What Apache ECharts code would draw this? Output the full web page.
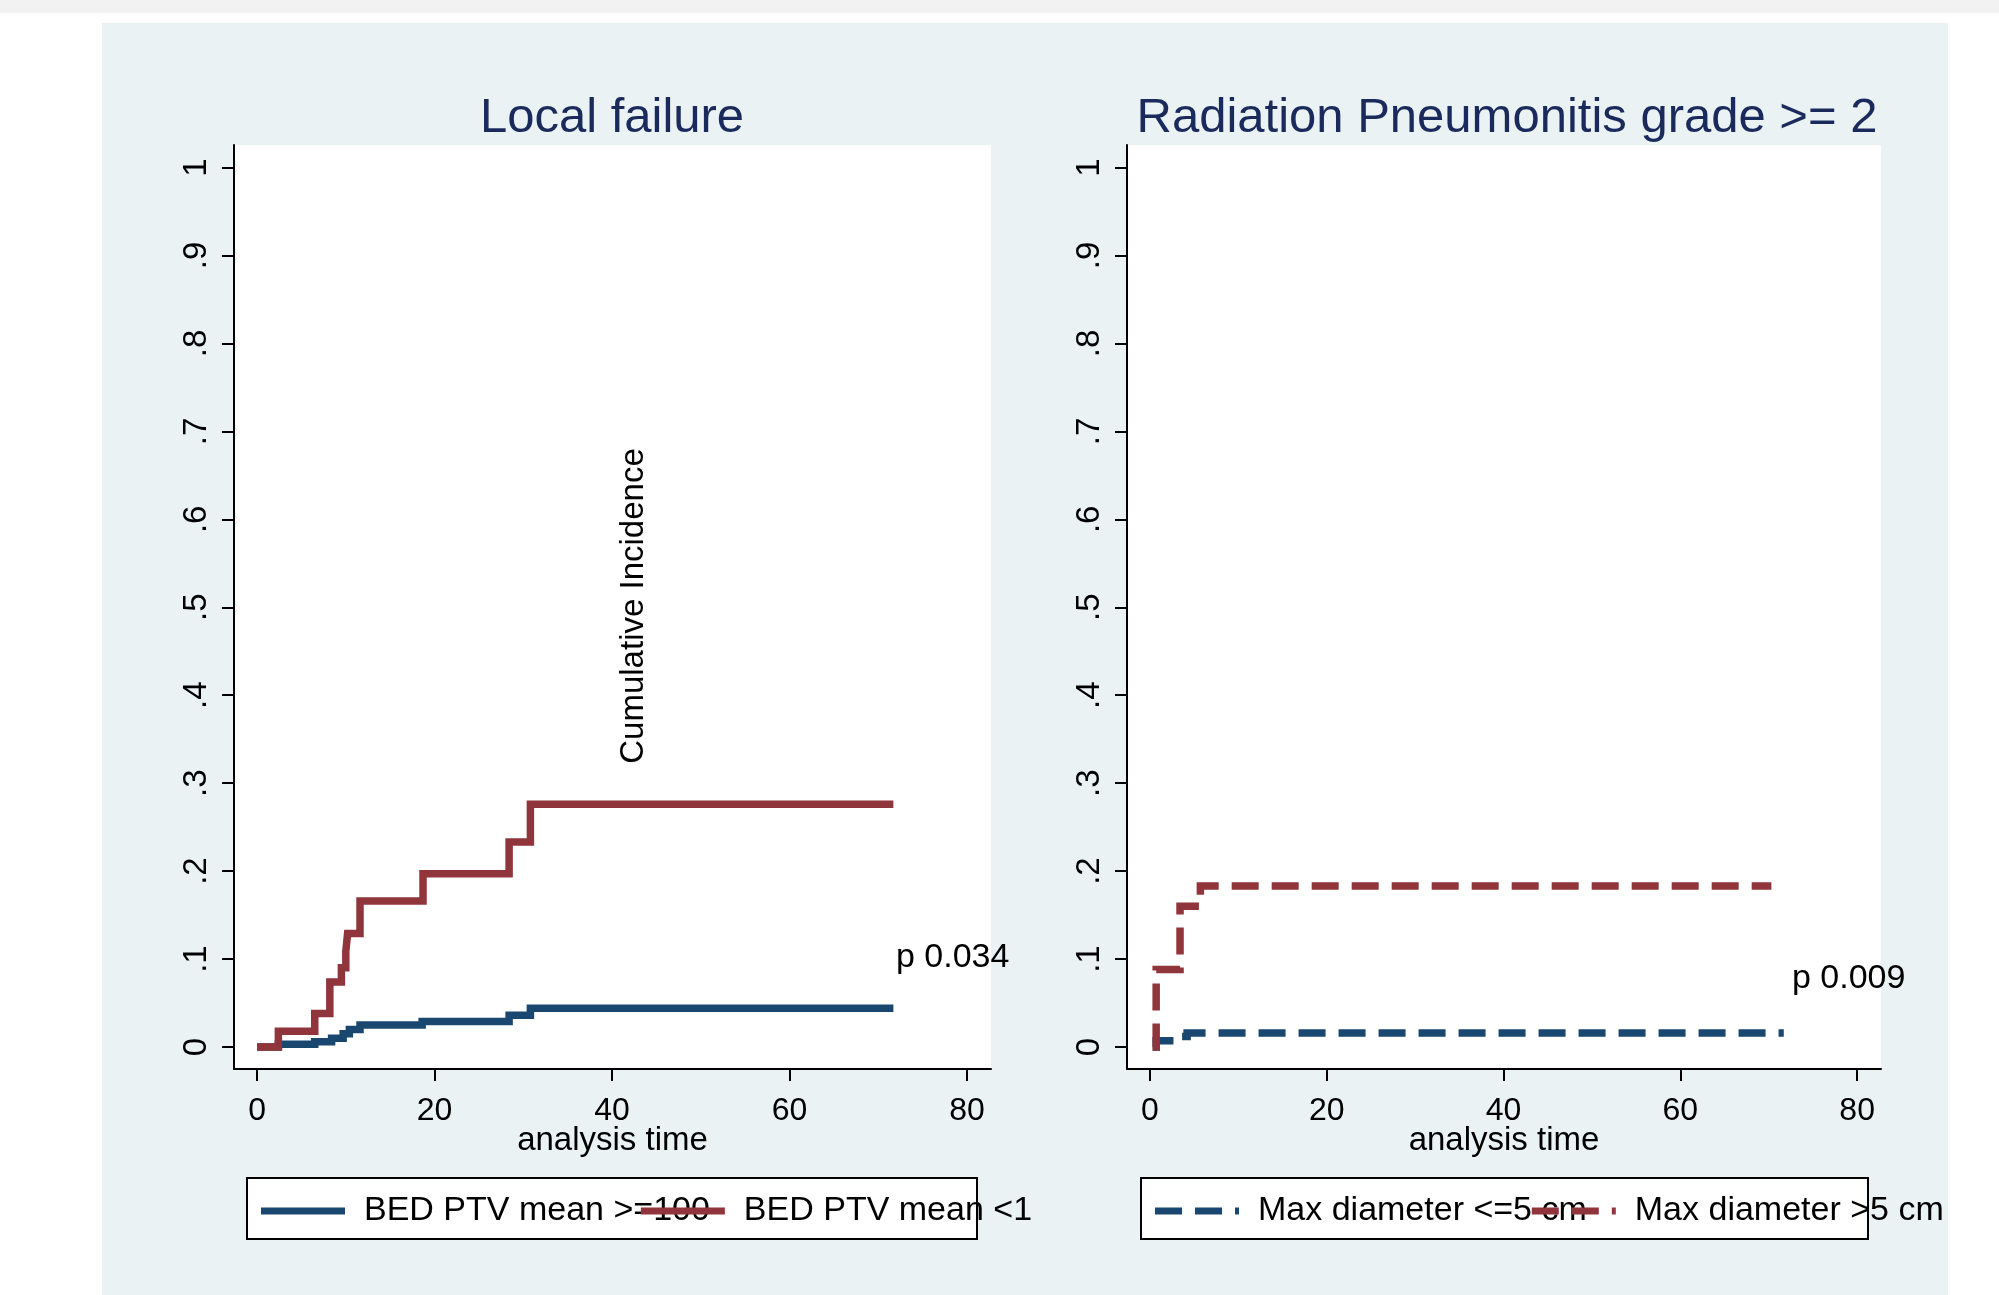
<!DOCTYPE html>
<html>
<head>
<meta charset="utf-8">
<title>Local failure / Radiation Pneumonitis</title>
<script src="https://cdn.jsdelivr.net/npm/echarts@6/dist/echarts.min.js"></script>
<style>
  html, body { margin: 0; padding: 0; background: #ffffff; }
  #band { position: absolute; left: 0; top: 0; width: 1999px; height: 13px; background: #f2f2f2; }
  #panel { position: absolute; left: 102px; top: 23px; width: 1846px; height: 1272px; background: #eaf2f3; }
  #chart { position: absolute; left: 0; top: 0; width: 1999px; height: 1295px; }
</style>
</head>
<body>
<div id="band"></div>
<div id="panel"></div>
<div id="chart"></div>
<script>
// axis ticks
const xTicks = [0, 20, 40, 60, 80];
const yTicks = [0, 0.1, 0.2, 0.3, 0.4, 0.5, 0.6, 0.7, 0.8, 0.9, 1];
const yTickLabels = ["0", ".1", ".2", ".3", ".4", ".5", ".6", ".7", ".8", ".9", "1"];

// left panel: local failure, [analysis time, cumulative incidence]
const bedHigh = [
  [0, 0], [2.4, 0.003], [6.5, 0.006], [8.4, 0.01], [9.7, 0.015], [10.4, 0.02],
  [11.6, 0.025], [18.6, 0.029], [28.4, 0.036], [30.8, 0.044], [71.7, 0.044]
];
const bedLow = [
  [0, 0], [2.4, 0.018], [6.5, 0.038], [8.2, 0.074], [9.5, 0.09], [10.0, 0.109],
  [10.2, 0.129], [11.6, 0.166], [18.7, 0.197], [28.4, 0.233], [30.8, 0.276], [71.7, 0.276]
];

// right panel: radiation pneumonitis grade >= 2
const diamSmall = [
  [0.3, 0], [0.7, 0.007], [3.4, 0.012], [4.2, 0.016], [71.7, 0.016]
];
const diamLarge = [
  [0.3, 0], [0.7, 0.088], [3.4, 0.16], [5.7, 0.183], [70.3, 0.183]
];

const names = {
  bedHigh: "BED PTV mean >=100",
  bedLow: "BED PTV mean <100",
  diamSmall: "Max diameter <=5 cm",
  diamLarge: "Max diameter >5 cm"
};

const navy = "#1a476f";
const maroon = "#90353b";
const font = "Liberation Sans, Arial, sans-serif";

// legend keys drawn as a thick bar / a dashed bar
const solidKey = "path://M0,0H84V7H0Z";
const dashKey = "path://M0,0H27V7H0Z M40,0H67V7H40Z M80,0H84V7H80Z";

const chart = echarts.init(document.getElementById("chart"), null, { renderer: "canvas" });

function makeX(idx) {
  return {
    type: "value",
    gridIndex: idx,
    min: -2.6,
    max: 82.7,
    name: "analysis time",
    nameLocation: "middle",
    nameGap: 55,
    nameMoveOverlap: false,
    nameTextStyle: { fontSize: 33, color: "#000", fontFamily: font },
    axisLine: { show: true, onZero: false, lineStyle: { color: "#000", width: 2 } },
    axisTick: { show: true, length: 12, customValues: xTicks, lineStyle: { color: "#000", width: 2 } },
    axisLabel: { customValues: xTicks, fontSize: 32, color: "#000", margin: 26, fontFamily: font },
    splitLine: { show: false }
  };
}

function makeY(idx) {
  return {
    type: "value",
    gridIndex: idx,
    min: -0.025,
    max: 1.0256,
    axisLine: { show: true, onZero: false, lineStyle: { color: "#000", width: 2 } },
    axisTick: { show: true, length: 12, customValues: yTicks, lineStyle: { color: "#000", width: 2 } },
    axisLabel: {
      customValues: yTicks,
      rotate: 90,
      fontSize: 33,
      color: "#000",
      margin: 21,
      fontFamily: font,
      formatter: function (v) {
        let best = 0;
        for (let i = 0; i < yTicks.length; i++) {
          if (Math.abs(yTicks[i] - v) < Math.abs(yTicks[best] - v)) best = i;
        }
        return yTickLabels[best];
      }
    },
    splitLine: { show: false }
  };
}

function stepSeries(name, data, color, idx, dashed) {
  return {
    name: name,
    type: "line",
    xAxisIndex: idx,
    yAxisIndex: idx,
    data: data,
    step: "end",
    symbol: "none",
    showSymbol: false,
    silent: true,
    animation: false,
    itemStyle: { color: color },
    lineStyle: { color: color, width: 7.5, type: dashed ? [27, 13] : "solid", join: "miter", cap: "butt" }
  };
}

function makeLegend(items, left, gap, icon) {
  return {
    data: items,
    left: left,
    top: 1194,
    orient: "horizontal",
    padding: 0,
    icon: icon,
    itemWidth: 84,
    itemHeight: 7,
    itemGap: gap,
    selectedMode: false,
    textStyle: { fontSize: 34, color: "#000", fontFamily: font, padding: [0, 0, 0, 14] }
  };
}

const option = {
  backgroundColor: "transparent",
  animation: false,
  textStyle: { fontFamily: font },
  title: [
    {
      text: "Local failure",
      left: 612, top: 94, textAlign: "center", padding: 0,
      textStyle: { fontSize: 49, fontWeight: "normal", color: "#1b2a5c", fontFamily: font }
    },
    {
      text: "Radiation Pneumonitis grade >= 2",
      left: 1507, top: 94, textAlign: "center", padding: 0,
      textStyle: { fontSize: 49, fontWeight: "normal", color: "#1b2a5c", fontFamily: font }
    }
  ],
  grid: [
    { left: 234, top: 145, width: 757, height: 924, show: true, backgroundColor: "#fff", borderWidth: 0, outerBoundsMode: "none" },
    { left: 1127, top: 145, width: 754, height: 924, show: true, backgroundColor: "#fff", borderWidth: 0, outerBoundsMode: "none" }
  ],
  xAxis: [makeX(0), makeX(1)],
  yAxis: [makeY(0), makeY(1)],
  legend: [
    makeLegend([
      { name: names.bedHigh },
      { name: names.bedLow, textStyle: { width: 300, overflow: "truncate", ellipsis: "" } }
    ], 261, -69, solidKey),
    makeLegend([
      { name: names.diamSmall },
      { name: names.diamLarge }
    ], 1155, -55, dashKey)
  ],
  graphic: [
    // legend boxes
    { type: "rect", z: 1, silent: true, shape: { x: 247, y: 1178, width: 730, height: 61 },
      style: { fill: "#fff", stroke: "#000", lineWidth: 2 } },
    { type: "rect", z: 1, silent: true, shape: { x: 1141, y: 1178, width: 727, height: 61 },
      style: { fill: "#fff", stroke: "#000", lineWidth: 2 } },
    // y title as it sits in the source
    { type: "text", z: 5, silent: true, x: 634, y: 606, rotation: Math.PI / 2,
      style: { text: "Cumulative Incidence", fontSize: 33, fill: "#000", fontFamily: font, align: "center", verticalAlign: "middle" } },
    // p-values
    { type: "text", z: 5, silent: true, x: 896, y: 958,
      style: { text: "p 0.034", fontSize: 34, fill: "#000", fontFamily: font, align: "left", verticalAlign: "middle" } },
    { type: "text", z: 5, silent: true, x: 1792, y: 979,
      style: { text: "p 0.009", fontSize: 34, fill: "#000", fontFamily: font, align: "left", verticalAlign: "middle" } }
  ],
  series: [
    stepSeries(names.bedHigh, bedHigh, navy, 0, false),
    stepSeries(names.bedLow, bedLow, maroon, 0, false),
    stepSeries(names.diamSmall, diamSmall, navy, 1, true),
    stepSeries(names.diamLarge, diamLarge, maroon, 1, true)
  ]
};

chart.setOption(option);
</script>
</body>
</html>
